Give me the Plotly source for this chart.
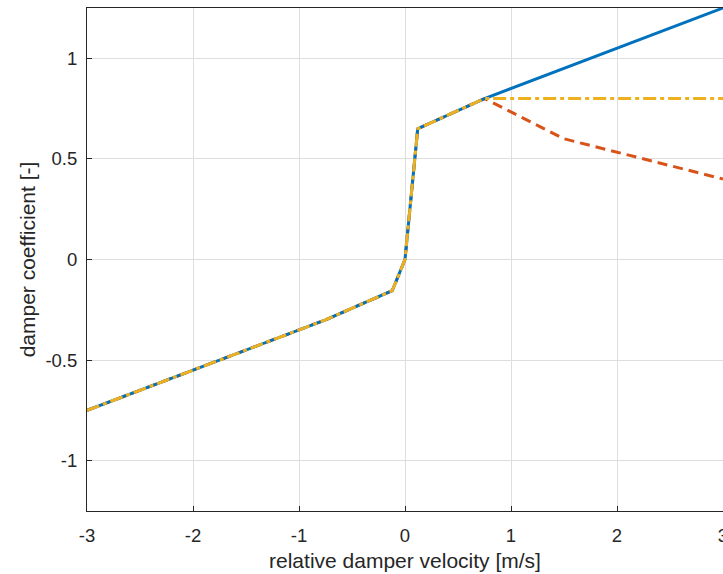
import plotly.graph_objects as go

# Data
x_passive = [-3.0, -0.75, -0.12, 0.0, 0.12, 0.75, 3.0]
y_passive = [-0.75, -0.30, -0.155, 0.0, 0.65, 0.80, 1.25]

x_degress = [-3.0, -0.75, -0.12, 0.0, 0.12, 0.75, 1.5, 3.0]
y_degress = [-0.75, -0.30, -0.155, 0.0, 0.65, 0.80, 0.60, 0.40]

x_const = [-3.0, -0.75, -0.12, 0.0, 0.12, 0.75, 3.0]
y_const = [-0.75, -0.30, -0.155, 0.0, 0.65, 0.80, 0.80]

x_ticks = [-3, -2, -1, 0, 1, 2, 3]
y_ticks = [-1, -0.5, 0, 0.5, 1]
y_tick_text = ["-1", "-0.5", "0", "0.5", "1"]

BLUE = "#0072BD"
ORANGE = "#D95319"
YELLOW = "#EDB120"
AX = "#262626"
FONT = "Liberation Sans, Arial, sans-serif"

fig = go.Figure()
fig.add_trace(go.Scatter(x=x_degress, y=y_degress, mode="lines",
                         line=dict(color=ORANGE, width=3, dash="10px,6px")))
fig.add_trace(go.Scatter(x=x_passive, y=y_passive, mode="lines",
                         line=dict(color=BLUE, width=3)))
fig.add_trace(go.Scatter(x=x_const, y=y_const, mode="lines",
                         line=dict(color=YELLOW, width=3, dash="13px,4px,4px,4px")))

fig.update_layout(
    width=723, height=574,
    margin=dict(l=87, r=0, t=8, b=63, autoexpand=False),
    paper_bgcolor="white", plot_bgcolor="white",
    showlegend=False,
    font=dict(family=FONT, size=18.5, color=AX),
)
fig.update_xaxes(
    range=[-3, 3], tickvals=x_ticks, ticktext=[str(v) for v in x_ticks],
    showgrid=True, gridcolor="#dedede", gridwidth=1,
    showline=True, linecolor=AX, linewidth=1, mirror=True,
    ticks="inside", ticklen=5, tickcolor=AX, zeroline=False,
    ticklabelstandoff=8, ticklabeloverflow="allow", automargin=False,
    title=dict(text="relative damper velocity [m/s]", standoff=8,
               font=dict(size=21, color=AX)),
    tickfont=dict(size=18.5, color=AX),
)
fig.update_yaxes(
    range=[-1.25, 1.25], tickvals=y_ticks, ticktext=y_tick_text,
    showgrid=True, gridcolor="#dedede", gridwidth=1,
    showline=True, linecolor=AX, linewidth=1, mirror=True,
    ticks="inside", ticklen=5, tickcolor=AX, zeroline=False,
    ticklabelstandoff=5, ticklabeloverflow="allow", automargin=False,
    title=dict(text="damper coefficient [-]", standoff=4,
               font=dict(size=21, color=AX)),
    tickfont=dict(size=18.5, color=AX),
)

fig.write_html("out.html")
